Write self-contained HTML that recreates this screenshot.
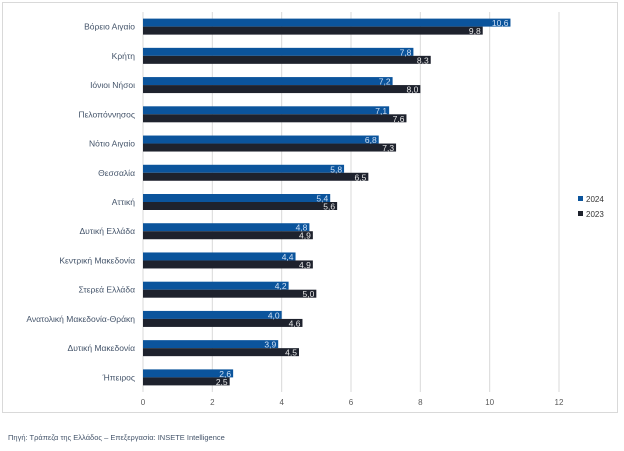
<!DOCTYPE html>
<html><head><meta charset="utf-8"><style>
body{margin:0;background:#fff;width:624px;height:446px;overflow:hidden;font-family:"Liberation Sans","DejaVu Sans",sans-serif}
svg text{font-family:"Liberation Sans","DejaVu Sans",sans-serif}
</style></head><body>
<svg id="chart" width="624" height="446" viewBox="0 0 624 446" xmlns="http://www.w3.org/2000/svg">
<rect x="2.5" y="2.5" width="615" height="410" fill="#fff" stroke="#d9d9d9"/>
<g id="grid"></g><g id="bars"></g><g id="labels"></g>
<g>
<rect x="578" y="196" width="5" height="5" fill="#0b549c"/>
<text x="586" y="202" font-size="8" fill="#333">2024</text>
<rect x="578" y="211" width="5" height="5" fill="#1e222d"/>
<text x="586" y="217" font-size="8" fill="#333">2023</text>
</g>
<text x="8" y="440" font-size="7.5" fill="#44546a">Πηγή: Τράπεζα της Ελλάδος – Επεξεργασία: INSETE Intelligence</text>
</svg>
<script>
const categories=["Βόρειο Αιγαίο","Κρήτη","Ιόνιοι Νήσοι","Πελοπόννησος","Νότιο Αιγαίο","Θεσσαλία","Αττική","Δυτική Ελλάδα","Κεντρική Μακεδονία","Στερεά Ελλάδα","Ανατολική Μακεδονία-Θράκη","Δυτική Μακεδονία","Ήπειρος"];
const values2024=[10.6,7.8,7.2,7.1,6.8,5.8,5.4,4.8,4.4,4.2,4.0,3.9,2.6];
const values2023=[9.8,8.3,8.0,7.6,7.3,6.5,5.6,4.9,4.9,5.0,4.6,4.5,2.5];
const ticks=[0,2,4,6,8,10,12];
const NS="http://www.w3.org/2000/svg";
const x0=143,x1=559,xmax=12,yTop=12,yBot=392;
const xs=v=>x0+(x1-x0)*v/xmax;
const band=(yBot-yTop)/categories.length;
const yc=i=>yTop+band*(i+0.5);
const bh=8;
function mk(tag,attrs,parent){const e=document.createElementNS(NS,tag);for(const k in attrs)e.setAttribute(k,attrs[k]);parent.appendChild(e);return e;}
const grid=document.getElementById('grid'),bars=document.getElementById('bars'),labels=document.getElementById('labels');
ticks.forEach(t=>{
 const l=mk('line',{x1:xs(t),x2:xs(t),y1:yTop,y2:yBot,stroke:'#d9d9d9','stroke-width':1},grid);
 
 
 const tx=mk('text',{x:xs(t),y:405,'font-size':8,fill:'#595959','text-anchor':'middle'},grid);
 tx.textContent=t;
 
 
});
categories.forEach((c,i)=>{
 const y=yc(i);
 const lt=mk('text',{x:135,y:y+3,'font-size':8.5,fill:'#44546a','text-anchor':'end'},labels);
 lt.textContent=c;
 
 
 [[values2024[i],'#0b549c',y-bh,'#cfe0f5','2024'],[values2023[i],'#1e222d',y,'#e8e8e8','2023']].forEach(([v,col,yy,tc,s])=>{
  const r=mk('rect',{x:x0,y:yy,width:xs(v)-x0,height:bh,fill:col},bars);
  
  
  const vt=mk('text',{x:xs(v)-2,y:yy+bh-0.5,'font-size':8.5,fill:tc,'text-anchor':'end'},labels);
  vt.textContent=v.toFixed(1).replace('.',',');
  
  
 });
});
</script>
</body></html>
